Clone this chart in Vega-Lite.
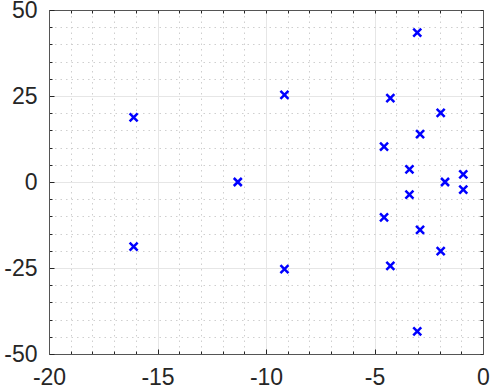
{
  "$schema": "https://vega.github.io/schema/vega-lite/v6.json",
  "width": 434,
  "height": 344,
  "autosize": "none",
  "padding": {"left": 49, "top": 10, "right": 8, "bottom": 35},
  "background": "#ffffff",
  "config": {
    "view": {"stroke": null},
    "axis": {"labelFont": "Liberation Sans", "labelFontSize": 23, "labelColor": "#262626", "title": null, "domainColor": "#555555", "tickColor": "#262626"}
  },
  "data": {"values": [
    {"re": -16.1, "im": 18.8}, {"re": -16.1, "im": -18.8},
    {"re": -11.3, "im": 0},
    {"re": -9.15, "im": 25.3}, {"re": -9.15, "im": -25.3},
    {"re": -3.03, "im": 43.4}, {"re": -3.03, "im": -43.4},
    {"re": -4.27, "im": 24.4}, {"re": -4.27, "im": -24.4},
    {"re": -1.95, "im": 20.1}, {"re": -1.95, "im": -20.1},
    {"re": -2.9, "im": 13.9}, {"re": -2.9, "im": -13.9},
    {"re": -4.56, "im": 10.3}, {"re": -4.56, "im": -10.3},
    {"re": -3.39, "im": 3.7}, {"re": -3.39, "im": -3.7},
    {"re": -0.91, "im": 2.2}, {"re": -0.91, "im": -2.2},
    {"re": -1.75, "im": 0}
  ]},
  "layer": [
    {
      "mark": {"type": "point", "opacity": 0},
      "encoding": {
        "x": {"field": "re", "type": "quantitative", "scale": {"domain": [-20, 0], "nice": false, "zero": false},
          "axis": {"orient": "bottom", "values": [-19,-18,-17,-16,-14,-13,-12,-11,-9,-8,-7,-6,-4,-3,-2,-1], "labels": false, "domain": false, "tickSize": -3, "grid": true, "gridColor": "#cfcfcf", "gridDash": [1.5, 4], "gridWidth": 1}},
        "y": {"field": "im", "type": "quantitative", "scale": {"domain": [-50, 50], "nice": false, "zero": false},
          "axis": {"orient": "left", "values": [-45,-40,-35,-30,-20,-15,-10,-5,5,10,15,20,30,35,40,45], "labels": false, "domain": false, "tickSize": -3, "grid": true, "gridColor": "#cfcfcf", "gridDash": [1.5, 4], "gridWidth": 1}}
      }
    },
    {
      "mark": {"type": "point", "opacity": 0},
      "encoding": {
        "x": {"field": "re", "type": "quantitative", "scale": {"domain": [-20, 0], "nice": false, "zero": false},
          "axis": {"orient": "top", "values": [-20,-19,-18,-17,-16,-15,-14,-13,-12,-11,-10,-9,-8,-7,-6,-5,-4,-3,-2,-1,0], "labels": false, "domain": true, "tickSize": -3, "grid": false}},
        "y": {"field": "im", "type": "quantitative", "scale": {"domain": [-50, 50], "nice": false, "zero": false},
          "axis": {"orient": "right", "values": [-50,-45,-40,-35,-30,-25,-20,-15,-10,-5,0,5,10,15,20,25,30,35,40,45,50], "labels": false, "domain": true, "tickSize": -3, "grid": false}}
      }
    },
    {
      "mark": {"type": "point", "shape": "M-1,-1L1,1M-1,1L1,-1", "filled": false, "strokeWidth": 2.5, "size": 64, "color": "#0000ff", "opacity": 1},
      "encoding": {
        "x": {"field": "re", "type": "quantitative", "scale": {"domain": [-20, 0], "nice": false, "zero": false},
          "axis": {"orient": "bottom", "values": [-20, -15, -10, -5, 0], "labelExpr": "toString(datum.value)", "tickSize": -5, "labelPadding": 17, "grid": true, "gridColor": "#e6e6e6", "gridWidth": 1, "labelFlush": false}},
        "y": {"field": "im", "type": "quantitative", "scale": {"domain": [-50, 50], "nice": false, "zero": false},
          "axis": {"orient": "left", "values": [-50, -25, 0, 25, 50], "labelExpr": "toString(datum.value)", "tickSize": -5, "labelPadding": 17, "grid": true, "gridColor": "#e6e6e6", "gridWidth": 1, "labelFlush": false}}
      }
    }
  ],
  "resolve": {"axis": {"x": "independent", "y": "independent"}}
}
